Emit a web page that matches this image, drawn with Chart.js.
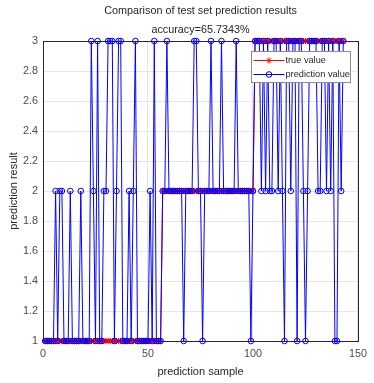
<!DOCTYPE html>
<html>
<head>
<meta charset="utf-8">
<script src="https://cdn.jsdelivr.net/npm/chart.js@4.4.0/dist/chart.umd.min.js"></script>
<style>
  html, body { margin: 0; padding: 0; background: #fff; }
  canvas { display: block; }
</style>
</head>
<body>
<canvas id="chart" width="374" height="383"></canvas>
<script>
// test set: actual class of each sample
const trueValue = [
  1,1,1,1,1,1,1,1,1,1,
  1,1,1,1,1,1,1,1,1,1,
  1,1,1,1,1,1,1,1,1,1,
  1,1,1,1,1,1,1,1,1,1,
  1,1,1,1,1,1,1,1,1,1,
  1,1,1,1,1,1,2,2,2,2,
  2,2,2,2,2,2,2,2,2,2,
  2,2,2,2,2,2,2,2,2,2,
  2,2,2,2,2,2,2,2,2,2,
  2,2,2,2,2,2,2,2,2,2,
  3,3,3,3,3,3,3,3,3,3,
  3,3,3,3,3,3,3,3,3,3,
  3,3,3,3,3,3,3,3,3,3,
  3,3,3,3,3,3,3,3,3,3,
  3,3,3
];
// model output for the same samples
const predValue = [
  1,1,1,1,1,2,1,2,2,1,
  1,1,2,1,1,1,1,2,1,1,
  1,1,3,2,1,3,1,1,2,2,
  3,3,3,1,2,3,3,1,1,1,
  2,1,2,3,1,1,1,1,1,1,
  2,1,3,1,1,1,2,2,3,2,
  2,2,2,2,2,2,1,2,2,2,
  2,3,3,2,2,1,2,2,2,3,
  2,2,2,2,3,2,2,2,2,2,
  2,3,2,2,2,2,2,2,1,2,
  3,3,3,2,3,2,3,2,2,3,
  3,2,3,2,1,3,3,2,3,3,
  1,3,3,2,1,2,3,3,3,3,
  2,2,3,3,2,3,2,3,1,1,
  3,2,3
];
const sampleNo = trueValue.map((_, i) => i + 1);
const xTicks = [0, 50, 100, 150];
const yTicks = [1, 1.2, 1.4, 1.6, 1.8, 2, 2.2, 2.4, 2.6, 2.8, 3];
const titleLines = ['Comparison of test set prediction results', 'accuracy=65.7343%'];

const FONT = "'Liberation Sans', Arial, Helvetica, sans-serif";

const toPoints = arr => arr.map((v, i) => ({x: sampleNo[i], y: v}));

// axes box (top and right sides too)
const axesBox = {
  id: 'axesBox',
  beforeDatasetsDraw(chart) {
    const {ctx, chartArea: a} = chart;
    ctx.save();
    ctx.strokeStyle = '#262626';
    ctx.lineWidth = 1;
    ctx.strokeRect(Math.round(a.left) + 0.5, Math.round(a.top) + 0.5,
      Math.round(a.right - a.left), Math.round(a.bottom - a.top));
    ctx.restore();
  }
};

// legend with line + marker samples inside a framed box
const boxLegend = {
  id: 'boxLegend',
  afterDraw(chart) {
    const {ctx, chartArea: a} = chart;
    const w = 99, h = 31;
    const x = Math.round(a.right - 8 - w) + 0.5;
    const y = Math.round(a.top + 10) + 0.5;
    ctx.save();
    ctx.fillStyle = '#fff';
    ctx.fillRect(x, y, w, h);
    ctx.strokeStyle = '#8c8c8c';
    ctx.lineWidth = 1;
    ctx.strokeRect(x, y, w, h);
    ctx.font = '9.2px ' + FONT;
    ctx.textBaseline = 'middle';
    chart.data.datasets.forEach((ds, i) => {
      const cy = y + 9 + i * 14;
      ctx.strokeStyle = ds.borderColor;
      ctx.fillStyle = 'rgba(0,0,0,0)';
      ctx.lineWidth = 1;
      ctx.beginPath();
      ctx.moveTo(x + 2, cy);
      ctx.lineTo(x + 33, cy);
      ctx.stroke();
      Chart.helpers.drawPoint(ctx, {
        pointStyle: ds.pointStyle,
        radius: ds.pointRadius,
        borderWidth: 1,
        rotation: 0
      }, x + 17.5, cy);
      ctx.fillStyle = '#262626';
      ctx.fillText(ds.label, x + 34, cy);
    });
    ctx.restore();
  }
};

const ctx = document.getElementById('chart').getContext('2d');
const chart = new Chart(ctx, {
  type: 'line',
  data: {
    datasets: [{
      label: 'true value',
      data: toPoints(trueValue),
      order: 1,
      borderColor: '#ff0000',
      backgroundColor: '#ff0000',
      borderWidth: 1,
      pointStyle: 'star',
      pointRadius: 3,
      pointBorderWidth: 1,
      pointBorderColor: '#ff0000',
      clip: false
    }, {
      label: 'prediction value',
      data: toPoints(predValue),
      order: 0,
      borderColor: '#0000ff',
      backgroundColor: 'rgba(0,0,0,0)',
      borderWidth: 1,
      pointStyle: 'circle',
      pointRadius: 2.8,
      pointBorderWidth: 1,
      pointBorderColor: '#0000ff',
      pointBackgroundColor: 'rgba(0,0,0,0)',
      clip: false
    }]
  },
  options: {
    responsive: false,
    animation: false,
    layout: { padding: { left: 0, right: 10, top: 0, bottom: 0 } },
    scales: {
      x: {
        type: 'linear',
        min: 0,
        max: 150,
        afterBuildTicks: s => { s.ticks = xTicks.map(v => ({value: v})); },
        afterFit: s => { s.height = 42; },
        ticks: {
          maxRotation: 0,
          padding: 7,
          color: '#4d4d4d',
          font: { family: FONT, size: 10.8 },
          callback: v => String(v)
        },
        grid: { color: '#e6e6e6', drawTicks: false },
        border: { display: false },
        title: {
          display: true,
          text: 'prediction sample',
          color: '#262626',
          font: { family: FONT, size: 11 },
          padding: { top: 0, bottom: 4 }
        }
      },
      y: {
        min: 1,
        max: 3,
        afterBuildTicks: s => { s.ticks = yTicks.map(v => ({value: v})); },
        afterFit: s => { s.width = 43; },
        ticks: {
          padding: 5,
          color: '#4d4d4d',
          font: { family: FONT, size: 10.8 },
          callback: v => String(v)
        },
        grid: { color: '#e6e6e6', drawTicks: false },
        border: { display: false },
        title: {
          display: true,
          text: 'prediction result',
          color: '#262626',
          font: { family: FONT, size: 11 },
          padding: { top: 7, bottom: 0 }
        }
      }
    },
    plugins: {
      legend: { display: false },
      tooltip: { enabled: false },
      title: {
        display: true,
        text: titleLines,
        fullSize: false,
        color: '#262626',
        font: { family: FONT, size: 10.8, weight: 'normal', lineHeight: 1.7 },
        padding: { top: 2, bottom: 2.3 }
      }
    }
  },
  plugins: [axesBox, boxLegend]
});
</script>
</body>
</html>
